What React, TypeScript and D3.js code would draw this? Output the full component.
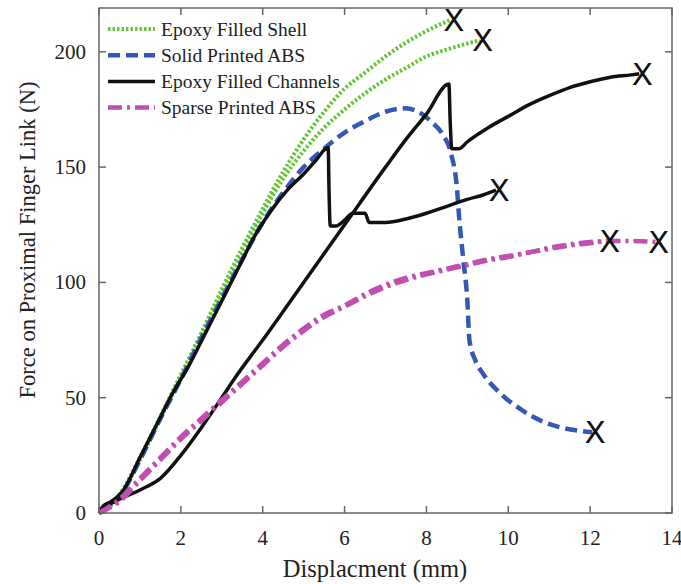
import React, { useEffect, useRef } from 'react';
import * as d3 from 'd3';

// displacement (mm) / force (N)
const shellAX = [0, 0.5, 1, 1.5, 2, 2.5, 3, 3.5, 4, 4.5, 5, 5.5, 6, 6.5, 7, 7.5, 8, 8.6];
const shellAY = [0, 8, 24, 42, 60, 78, 97, 115, 132, 148, 162, 174, 184, 191, 198, 204, 209, 214];
const shellBX = [0, 0.5, 1, 1.5, 2, 2.5, 3, 3.5, 4, 4.5, 5, 5.5, 6, 6.5, 7, 7.5, 8, 8.5, 9.3];
const shellBY = [0, 7, 23, 41, 59, 77, 95, 113, 130, 145, 157, 167, 175, 182, 188, 193, 198, 201, 205];

const solidX = [0, 0.5, 1, 1.5, 2, 2.5, 3, 3.5, 4, 4.5, 5, 5.5, 6, 6.5, 7, 7.5, 7.8, 8.1, 8.4, 8.6, 8.75, 8.8, 8.9, 9.0, 9.05, 9.2, 9.4, 9.8, 10.3, 10.8, 11.3, 11.8, 12.05];
const solidY = [0, 7, 23, 41, 58, 76, 93, 110, 126, 139, 150, 158, 165, 170, 174, 175.5, 174, 170, 164, 156, 140, 128, 110, 92, 75, 66, 60, 52, 45, 40, 37, 35.5, 35];

const chanAX = [0, 0.1, 0.3, 0.6, 1, 1.4, 1.8, 2.2, 2.6, 3, 3.4, 3.8, 4.2, 4.6, 5, 5.3, 5.6, 5.62, 5.65, 5.8, 6, 6.2, 6.5, 6.6, 7, 7.5, 8, 8.5, 9, 9.4, 9.7];
const chanAY = [0, 3, 5, 10, 24, 38, 52, 64, 78, 92, 106, 120, 131, 140, 147, 153, 158.5, 140, 124.5, 124.5, 127, 130, 130, 126, 126, 127.5, 130, 133, 136, 138, 140];
const chanBX = [0, 0.2, 0.5, 1, 1.5, 2, 2.5, 3, 3.3, 4, 5, 6, 7, 7.5, 8, 8.55, 8.58, 8.62, 8.8, 9, 9.5, 10, 10.5, 11, 11.5, 12, 12.5, 13, 13.2];
const chanBY = [0, 3, 6, 10, 15, 25, 37, 50, 58, 75, 100, 125, 150, 162, 173, 186, 170, 158, 158, 161, 167, 172, 177, 181, 184.5, 187, 189, 190, 190.5];

const sparseAX = [0, 0.5, 1, 1.5, 2, 2.5, 3, 3.5, 4, 4.5, 5, 5.5, 6, 6.5, 7, 7.5, 8, 8.5, 9, 9.5, 10, 10.5, 11, 11.5, 12, 12.4];
const sparseAY = [0, 6, 15, 24, 33, 41, 49, 57, 65, 73, 80, 86, 90, 95, 99, 102, 104, 106, 108, 110, 111.5, 113, 115, 116.5, 117.5, 118];
const sparseBX = [0, 0.5, 1, 1.5, 2, 2.5, 3, 3.5, 4, 4.5, 5, 5.5, 6, 6.5, 7, 7.5, 8, 8.5, 9, 9.5, 10, 10.5, 11, 11.5, 12, 12.5, 13, 13.6];
const sparseBY = [0, 5, 14, 23, 32, 40, 48, 56, 64, 72, 79, 85, 89.5, 94, 98, 101, 103.5, 105.5, 107.5, 109.5, 111, 113, 114.5, 116, 117, 118, 118, 117.5];

const xTicks = [0, 2, 4, 6, 8, 10, 12, 14];
const yTicks = [0, 50, 100, 150, 200];

const legendNames = ['Epoxy Filled Shell', 'Solid Printed ABS', 'Epoxy Filled Channels', 'Sparse Printed ABS'];

const styles = [
  { color: '#66c63a', dash: '2.5,2', width: 4 },
  { color: '#3457b8', dash: '12,6', width: 4.5 },
  { color: '#111111', dash: null, width: 3.5 },
  { color: '#c04fb0', dash: '14,5,3,5', width: 4.5 },
];

const series = [
  { xs: shellAX, ys: shellAY, s: 0 },
  { xs: shellBX, ys: shellBY, s: 0 },
  { xs: solidX, ys: solidY, s: 1 },
  { xs: chanAX, ys: chanAY, s: 2 },
  { xs: chanBX, ys: chanBY, s: 2 },
  { xs: sparseAX, ys: sparseAY, s: 3 },
  { xs: sparseBX, ys: sparseBY, s: 3 },
];

export default function App() {
  const ref = useRef<SVGSVGElement>(null);

  useEffect(() => {
    const svg = d3.select(ref.current);
    svg.selectAll('*').remove();

    const left = 99, right = 672, top = 8, bottom = 513;
    const x = d3.scaleLinear().domain([0, 14]).range([left, right]);
    const y = d3.scaleLinear().domain([0, 219]).range([bottom, top]);

    const font = '"Liberation Serif", "Times New Roman", serif';

    const line = d3
      .line<[number, number]>()
      .x((d) => x(d[0]))
      .y((d) => y(d[1]))
      .curve(d3.curveMonotoneX);

    // curves
    series.forEach((sr) => {
      const st = styles[sr.s];
      const pts = sr.xs.map((v, i) => [v, sr.ys[i]] as [number, number]);
      svg
        .append('path')
        .datum(pts)
        .attr('fill', 'none')
        .attr('stroke', st.color)
        .attr('stroke-width', st.width)
        .attr('stroke-dasharray', st.dash)
        .attr('stroke-linejoin', 'round')
        .attr('d', line);
    });

    // end-of-test markers
    series.forEach((sr) => {
      const n = sr.xs.length - 1;
      svg
        .append('text')
        .attr('x', x(sr.xs[n]) + 3)
        .attr('y', y(sr.ys[n]) + 11)
        .attr('text-anchor', 'middle')
        .attr('font-family', '"DejaVu Sans", sans-serif')
        .attr('font-size', 31)
        .attr('fill', '#111')
        .text('X');
    });

    // frame
    svg
      .append('rect')
      .attr('x', left)
      .attr('y', top)
      .attr('width', right - left)
      .attr('height', bottom - top)
      .attr('fill', 'none')
      .attr('stroke', '#666')
      .attr('stroke-width', 1.5);

    const tl = 7;
    const axisColor = '#666';
    xTicks.forEach((t) => {
      svg.append('line').attr('x1', x(t)).attr('x2', x(t)).attr('y1', bottom).attr('y2', bottom - tl).attr('stroke', axisColor).attr('stroke-width', 1.5);
      svg.append('line').attr('x1', x(t)).attr('x2', x(t)).attr('y1', top).attr('y2', top + tl).attr('stroke', axisColor).attr('stroke-width', 1.5);
      svg
        .append('text')
        .attr('x', x(t))
        .attr('y', bottom + 32)
        .attr('text-anchor', 'middle')
        .attr('font-family', font)
        .attr('font-size', 21)
        .attr('fill', '#222')
        .text(t);
    });
    yTicks.forEach((t) => {
      svg.append('line').attr('x1', left).attr('x2', left + tl).attr('y1', y(t)).attr('y2', y(t)).attr('stroke', axisColor).attr('stroke-width', 1.5);
      svg.append('line').attr('x1', right).attr('x2', right - tl).attr('y1', y(t)).attr('y2', y(t)).attr('stroke', axisColor).attr('stroke-width', 1.5);
      svg
        .append('text')
        .attr('x', left - 13)
        .attr('y', y(t) + 7)
        .attr('text-anchor', 'end')
        .attr('font-family', font)
        .attr('font-size', 21)
        .attr('fill', '#222')
        .text(t);
    });

    svg
      .append('text')
      .attr('x', 375)
      .attr('y', 577)
      .attr('text-anchor', 'middle')
      .attr('font-family', font)
      .attr('font-size', 24.5)
      .attr('fill', '#222')
      .text('Displacment (mm)');

    svg
      .append('text')
      .attr('transform', 'translate(35,240) rotate(-90)')
      .attr('text-anchor', 'middle')
      .attr('font-family', font)
      .attr('font-size', 22.5)
      .attr('fill', '#222')
      .text('Force on Proximal Finger Link (N)');

    // legend
    legendNames.forEach((name, i) => {
      const st = styles[i];
      const ly = 29 + i * 26.2;
      svg
        .append('line')
        .attr('x1', 108)
        .attr('x2', 155)
        .attr('y1', ly)
        .attr('y2', ly)
        .attr('stroke', st.color)
        .attr('stroke-width', st.width)
        .attr('stroke-dasharray', st.dash);
      svg
        .append('text')
        .attr('x', 161)
        .attr('y', ly + 6.5)
        .attr('font-family', font)
        .attr('font-size', 19.5)
        .attr('fill', '#222')
        .text(name);
    });
  }, []);

  return <svg ref={ref} width={681} height={584} style={{ position: 'absolute', left: 0, top: 0, background: '#fff' }} />;
}
